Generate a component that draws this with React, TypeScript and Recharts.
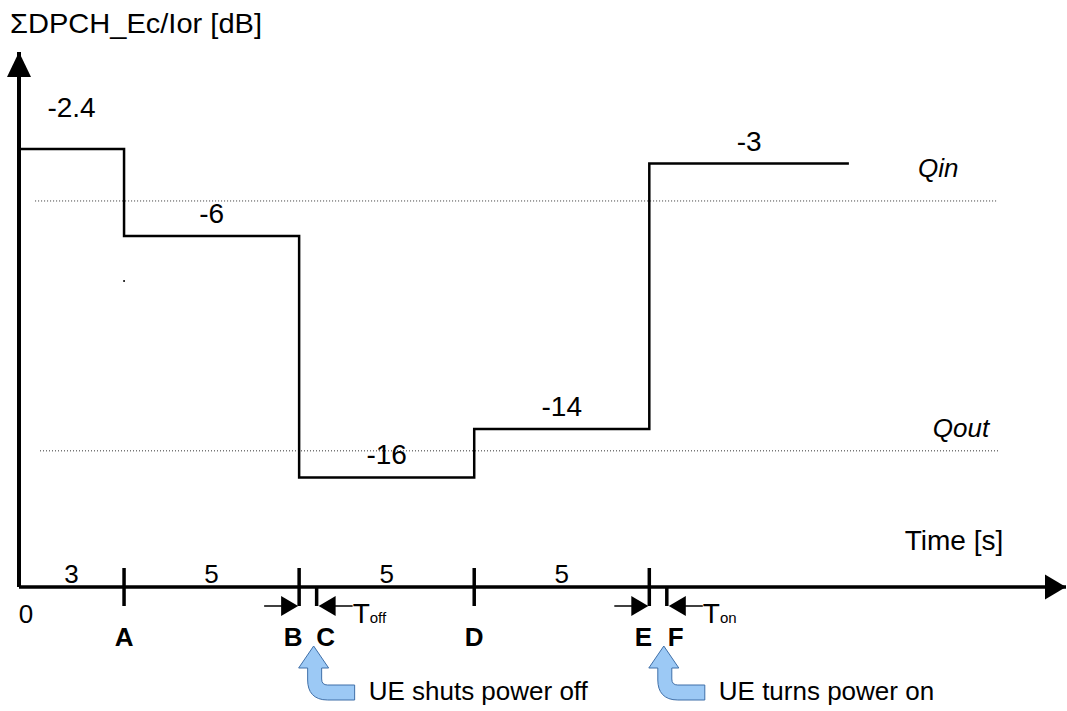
import React from 'react';
import { LineChart, Line, XAxis, YAxis, ReferenceLine, ReferenceDot } from 'recharts';

// step levels of the DPCH power (dB) and when each one starts (s)
const times = [0, 3, 8, 13, 18, 23.7];
const levels = [-2.4, -6, -16, -14, -3, -3];
const levelLabels = ['-2.4', '-6', '-16', '-14', '-3'];
const durations = ['3', '5', '5', '5'];

const markerNames = ['0', 'A', 'B', 'C', 'D', 'E', 'F'];
const markerTimes = [0, 3, 8, 8.5, 13, 18, 18.5];

const qNames = ['Qin', 'Qout'];
const qLevels = [-4.55, -14.9];

const gapStarts = [8, 18];
const gapEnds = [8.5, 18.5];
const gapSubs = ['off', 'on'];
const notes = ['UE shuts power off', 'UE turns power on'];

const T_MAX = 29.9;
const Y_MIN = -20.54;
const Y_MAX = 1.62;

const FONT = '"Liberation Sans", Arial, sans-serif';
const FS = 26;
const FS_BIG = 28;

const series = times.map((t, i) => ({ t, level: levels[i] }));

type Draw = (cx: number, cy: number) => React.ReactNode;
const at = (draw: Draw) => (p: any) => <g>{draw(p.cx, p.cy)}</g>;

const Txt = (props: any) => (
  <text fontFamily={FONT} fontSize={FS} fill="#000" {...props} />
);

const blueArrow = (tx: number, ty: number) => (
  <path
    d={`M ${tx} ${ty} L ${tx + 15} ${ty + 22} L ${tx + 8} ${ty + 22} L ${tx + 8} ${ty + 33}
        Q ${tx + 8} ${ty + 39} ${tx + 14} ${ty + 39} L ${tx + 41} ${ty + 39} L ${tx + 41} ${ty + 54}
        L ${tx + 14} ${ty + 54} C ${tx} ${ty + 54} ${tx - 6} ${ty + 46} ${tx - 6} ${ty + 34}
        L ${tx - 6} ${ty + 22} L ${tx - 15} ${ty + 22} Z`}
    fill="#9cc9f5"
    stroke="#3f6fa8"
    strokeWidth={1}
  />
);

export default function App() {
  return (
    <div style={{ position: 'absolute', left: 0, top: 0, background: '#fff' }}>
      <LineChart
        width={1067}
        height={711}
        data={series}
        margin={{ top: 52, right: 1, bottom: 124, left: 19 }}
      >
        <XAxis type="number" dataKey="t" domain={[0, T_MAX]} allowDataOverflow hide />
        <YAxis type="number" domain={[Y_MIN, Y_MAX]} allowDataOverflow hide />

        {/* threshold lines */}
        <ReferenceLine
          segment={[{ x: 0.46, y: qLevels[0] }, { x: 27.93, y: qLevels[0] }]}
          stroke="#333"
          strokeDasharray="1 2"
          strokeWidth={1}
        />
        <ReferenceLine
          segment={[{ x: 0.6, y: qLevels[1] }, { x: 28.0, y: qLevels[1] }]}
          stroke="#333"
          strokeDasharray="1 2"
          strokeWidth={1}
        />

        {/* axes */}
        <ReferenceLine x={0} stroke="#000" strokeWidth={4} />
        <ReferenceLine y={Y_MIN} stroke="#000" strokeWidth={3.5} />
        <ReferenceDot
          x={0}
          y={Y_MAX}
          r={1}
          shape={at((cx, cy) => (
            <path d={`M ${cx} ${cy} L ${cx + 12} ${cy + 25} L ${cx - 12} ${cy + 25} Z`} fill="#000" />
          ))}
        />
        <ReferenceDot
          x={T_MAX}
          y={Y_MIN}
          r={1}
          shape={at((cx, cy) => (
            <path d={`M ${cx} ${cy} L ${cx - 21} ${cy - 12.5} L ${cx - 21} ${cy + 12.5} Z`} fill="#000" />
          ))}
        />
        <ReferenceDot
          x={0}
          y={Y_MAX}
          r={1}
          shape={at((cx, cy) => (
            <Txt x={cx - 9} y={cy - 19} fontSize={FS_BIG} textLength={252} lengthAdjust="spacingAndGlyphs">
              ΣDPCH_Ec/Ior [dB]
            </Txt>
          ))}
        />
        <ReferenceDot
          x={T_MAX}
          y={Y_MIN}
          r={1}
          shape={at((cx, cy) => (
            <Txt x={cx - 112} y={cy - 37} textAnchor="middle" fontSize={FS_BIG}>Time [s]</Txt>
          ))}
        />

        <Line
          type="stepAfter"
          dataKey="level"
          stroke="#000"
          strokeWidth={2.5}
          dot={false}
          isAnimationActive={false}
        />

        {levelLabels.map((lab, i) => (
          <ReferenceDot
            key={'lv' + i}
            x={(times[i] + times[i + 1]) / 2}
            y={levels[i]}
            r={1}
            shape={at((cx, cy) => (
              <Txt x={cx} y={cy - (i === 0 ? 32 : 13)} textAnchor="middle" fontSize={FS_BIG}>{lab}</Txt>
            ))}
          />
        ))}

        {qNames.map((q, i) => (
          <ReferenceDot
            key={q}
            x={i === 0 ? 26.25 : 26.9}
            y={qLevels[i]}
            r={1}
            shape={at((cx, cy) => (
              <Txt x={cx} y={cy - (i === 0 ? 24 : 14)} textAnchor="middle" fontStyle="italic">{q}</Txt>
            ))}
          />
        ))}

        {durations.map((d, i) => (
          <ReferenceDot
            key={'du' + i}
            x={(times[i] + times[i + 1]) / 2}
            y={Y_MIN}
            r={1}
            shape={at((cx, cy) => (
              <Txt x={cx} y={cy - 4} textAnchor="middle">{d}</Txt>
            ))}
          />
        ))}

        {markerNames.map((m, i) => {
          const t = markerTimes[i];
          const isEnd = gapEnds.includes(t);
          const isStart = gapStarts.includes(t);
          const dx = isEnd ? 9 : isStart ? -6 : 0;
          return (
            <ReferenceDot
              key={'mk' + m}
              x={t}
              y={Y_MIN}
              r={1}
              shape={at((cx, cy) =>
                i === 0 ? (
                  <Txt x={cx + 7} y={cy + 36} textAnchor="middle">{m}</Txt>
                ) : (
                  <g>
                    <line
                      x1={cx}
                      x2={cx}
                      y1={isEnd ? cy : cy - 19}
                      y2={cy + 19}
                      stroke="#000"
                      strokeWidth={3.5}
                    />
                    <Txt x={cx + dx} y={cy + 59} textAnchor="middle" fontWeight="bold">{m}</Txt>
                  </g>
                )
              )}
            />
          );
        })}

        {gapStarts.map((g, i) => (
          <ReferenceDot
            key={'gs' + i}
            x={g}
            y={Y_MIN}
            r={1}
            shape={at((cx, cy) => (
              <g>
                <line x1={cx - 35} x2={cx - 15} y1={cy + 19} y2={cy + 19} stroke="#000" strokeWidth={1.5} />
                <path d={`M ${cx - 1} ${cy + 19} L ${cx - 18} ${cy + 9} L ${cx - 18} ${cy + 29} Z`} fill="#000" />
              </g>
            ))}
          />
        ))}

        {gapEnds.map((g, i) => (
          <ReferenceDot
            key={'ge' + i}
            x={g}
            y={Y_MIN}
            r={1}
            shape={at((cx, cy) => (
              <g>
                <line x1={cx + 15} x2={cx + 36} y1={cy + 19} y2={cy + 19} stroke="#000" strokeWidth={1.5} />
                <path d={`M ${cx + 2} ${cy + 19} L ${cx + 19} ${cy + 9} L ${cx + 19} ${cy + 29} Z`} fill="#000" />
                <Txt x={cx + 36} y={cy + 36} fontSize={FS_BIG}>
                  T<tspan fontSize={15}>{gapSubs[i]}</tspan>
                </Txt>
                {blueArrow(cx - 3, cy + 59)}
                <Txt x={cx + 52} y={cy + 113}>{notes[i]}</Txt>
              </g>
            ))}
          />
        ))}

        {/* stray dot in the original drawing */}
        <ReferenceDot x={3} y={-7.87} r={1} fill="#000" stroke="none" />
      </LineChart>
    </div>
  );
}
